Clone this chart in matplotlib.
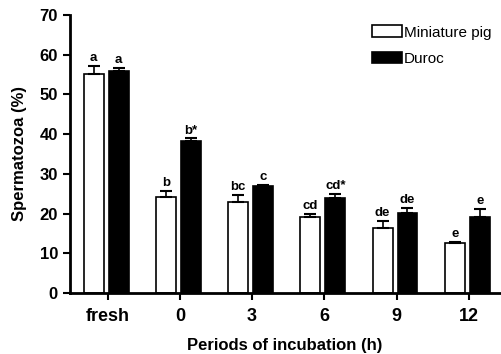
import numpy as np
import matplotlib
matplotlib.use("Agg")
import matplotlib.pyplot as plt

plt.rcParams['font.family'] = ['Liberation Sans', 'DejaVu Sans']
plt.rcParams['font.weight'] = 'bold'

# data
periods = ['fresh', '0', '3', '6', '9', '12']
mini_mean = [55.0, 24.2, 23.0, 19.1, 16.5, 12.5]
mini_err = [2.2, 1.6, 1.8, 0.7, 1.6, 0.3]
duroc_mean = [56.0, 38.2, 26.9, 23.9, 20.1, 19.1]
duroc_err = [0.7, 0.7, 0.3, 1.0, 1.4, 2.0]
mini_letters = ['a', 'b', 'bc', 'cd', 'de', 'e']
duroc_letters = ['a', 'b*', 'c', 'cd*', 'de', 'e']

fig = plt.figure(figsize=(5.02, 3.54), dpi=100)
ax = fig.add_axes([0.139, 0.172, 0.858, 0.786])

x = np.arange(len(periods))
w = 0.276
xw = x - 0.193
xd = x + 0.152

ax.bar(xw, mini_mean, w, color='white', edgecolor='black', linewidth=1.2,
       label='Miniature pig', zorder=2)
ax.bar(xd, duroc_mean, w, color='black', edgecolor='black', linewidth=1.2,
       label='Duroc', zorder=2)
ax.errorbar(xw, mini_mean, yerr=[np.zeros(6), mini_err], fmt='none',
            ecolor='black', elinewidth=1.2, capsize=4.5, capthick=1.5, zorder=3)
ax.errorbar(xd, duroc_mean, yerr=[np.zeros(6), duroc_err], fmt='none',
            ecolor='black', elinewidth=1.2, capsize=4.5, capthick=1.5, zorder=3)

for xi, m, e, t in zip(xw, mini_mean, mini_err, mini_letters):
    ax.text(xi, m + e + 0.5, t, ha='center', va='bottom', fontsize=9.5,
            fontweight='bold')
for xi, m, e, t in zip(xd, duroc_mean, duroc_err, duroc_letters):
    ax.text(xi, m + e + 0.5, t, ha='center', va='bottom', fontsize=9.5,
            fontweight='bold')

ax.set_xlim(-0.525, 5.44)
ax.set_ylim(0, 70)
ax.set_yticks(range(0, 71, 10))
ax.set_xticks(x)
ax.set_xticklabels(periods)
ax.tick_params(axis='both', direction='out', length=5, width=1.5,
               labelsize=12)
ax.tick_params(axis='x', labelsize=13, pad=6)
for s in ['top', 'right']:
    ax.spines[s].set_visible(False)
for s in ['left', 'bottom']:
    ax.spines[s].set_linewidth(2)

ax.set_xlabel('Periods of incubation (h)', fontsize=12, fontweight='bold',
              labelpad=9)
ax.set_ylabel('Spermatozoa (%)', fontsize=12, fontweight='bold',
              labelpad=9)

leg = ax.legend(loc='upper right', bbox_to_anchor=(1.0, 0.995), frameon=False,
                fontsize=11, handlelength=2.0, handleheight=0.8,
                handletextpad=0.1, labelspacing=0.8, borderaxespad=0.2)
for t in leg.get_texts():
    t.set_fontweight('medium')

fig.savefig('out.png', dpi=100)
